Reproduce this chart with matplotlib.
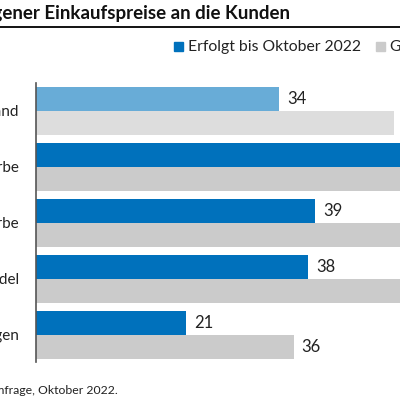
import matplotlib.pyplot as plt
from matplotlib.lines import Line2D
from matplotlib.patches import Rectangle
import numpy as np

plt.rcParams['font.family'] = ['Lato', 'DejaVu Sans']

# data (first row highlighted in a lighter blue)
categories = ["Deutschland", "Verarbeitendes Gewerbe", "Bauhauptgewerbe",
              "Handel", "Dienstleistungen"]
erfolgt = [34, 57, 39, 38, 21]
geplant = [50, 63, 58, 61, 36]
legend_labels = ["Erfolgt bis Oktober 2022", "Geplant für die nächsten drei Monate"]
title = "Weitergabe gestiegener Einkaufspreise an die Kunden"
source = "Quelle: ifo Konjunkturumfrage, Oktober 2022."

dark_blue = "#0071bc"
light_blue = "#68acd7"
grey = "#cbcbcb"
light_grey = "#dddddd"

W = H = 400.0
fig = plt.figure(figsize=(4, 4), dpi=100)

# axes: left spine at x=36px, from y=83px to y=362px
ax = fig.add_axes([36 / W, (H - 362) / H, (W - 36) / W, 279 / H])
px_per_unit = 7.15
ax.set_xlim(0, (W - 36.5) / px_per_unit)
ax.set_ylim(4.4875, -0.495)

y = np.arange(len(categories))
h = 0.43
blue_cols = [light_blue] + [dark_blue] * (len(categories) - 1)
grey_cols = [light_grey] + [grey] * (len(categories) - 1)
ax.barh(y - h / 2, erfolgt, height=h, color=blue_cols)
ax.barh(y + h / 2, geplant, height=h, color=grey_cols)

off = 8 / px_per_unit
for i in range(len(categories)):
    ax.text(erfolgt[i] + off, y[i] - h / 2, str(erfolgt[i]), va='center', ha='left',
            fontsize=12, color='#222222')
    ax.text(geplant[i] + off, y[i] + h / 2, str(geplant[i]), va='center', ha='left',
            fontsize=12, color='#222222')

ax.set_yticks(y)
ax.set_yticklabels(categories, fontsize=11, color='#222222')
ax.tick_params(axis='y', length=0, pad=12)
ax.set_xticks([])
for s in ['top', 'right', 'bottom']:
    ax.spines[s].set_visible(False)
ax.spines['left'].set_color('#555555')
ax.spines['left'].set_linewidth(1.2)

# title + rule
fig.text(290 / W, 1 - 13 / H, title, ha='right', va='center', fontsize=13.5,
         fontweight='bold', color='#111111')
fig.add_artist(Line2D([0, 1], [1 - 27.3 / H] * 2, color='black', lw=1.3,
                      transform=fig.transFigure))

# legend
ly = 1 - 47 / H
fig.add_artist(Rectangle((174 / W, ly - 4.5 / H), 9 / W, 9 / H, color=dark_blue,
                         transform=fig.transFigure))
fig.text(188 / W, ly, legend_labels[0], ha='left', va='center', fontsize=11.3,
         color='#222222')
fig.add_artist(Rectangle((376 / W, ly - 4.5 / H), 9 / W, 9 / H, color=grey,
                         transform=fig.transFigure))
fig.text(390 / W, ly, legend_labels[1], ha='left', va='center', fontsize=11.3,
         color='#222222')

# source
fig.text(118 / W, 1 - 391 / H, source, ha='right', va='center', fontsize=8.8,
         color='#222222')

fig.savefig("out.png", dpi=100)
